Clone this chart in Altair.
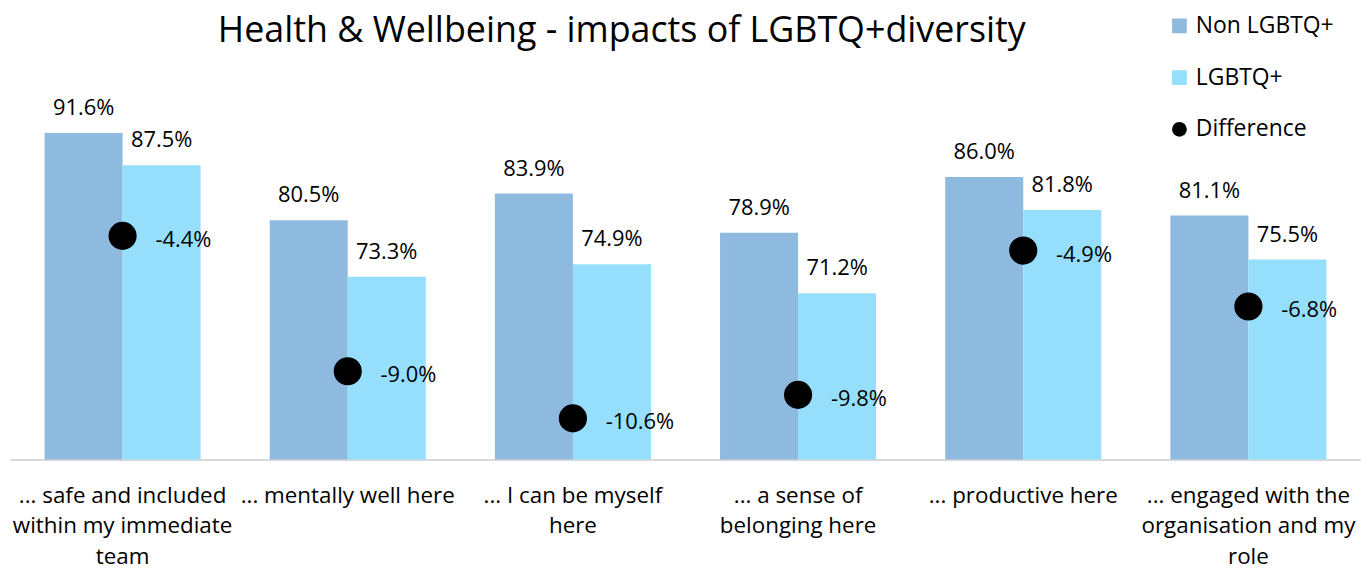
import altair as alt
import pandas as pd

categories = [
    "... safe and included\nwithin my immediate\nteam",
    "... mentally well here",
    "... I can be myself\nhere",
    "... a sense of\nbelonging here",
    "... productive here",
    "... engaged with the\norganisation and my\nrole",
]
non_lgbtq = [91.6, 80.5, 83.9, 78.9, 86.0, 81.1]
lgbtq = [87.5, 73.3, 74.9, 71.2, 81.8, 75.5]
difference = [-4.4, -9.0, -10.6, -9.8, -4.9, -6.8]

series_names = ["Non LGBTQ+", "LGBTQ+", "Difference"]
series_colors = ["#8FBADF", "#95DFFD", "#000000"]
series_shapes = ["square", "square", "circle"]

FONT = "Open Sans"

bars_df = pd.DataFrame({
    "category": categories * 2,
    "series": [series_names[0]] * len(categories) + [series_names[1]] * len(categories),
    "value": non_lgbtq + lgbtq,
})
diff_df = pd.DataFrame({
    "category": categories,
    "series": [series_names[2]] * len(categories),
    "diff": difference,
})

x_enc = alt.X(
    "category:N",
    sort=categories,
    title=None,
    scale=alt.Scale(paddingInner=0.307, paddingOuter=0.1535),
    axis=alt.Axis(
        labelAngle=0,
        labelExpr="split(datum.label, '\\n')",
        labelFontSize=22.5,
        labelFont=FONT,
        labelLineHeight=30.5,
        labelColor="#000000",
        labelBaseline="top",
        labelPadding=25,
        labelLimit=0,
        domainColor="#D9D9D9",
        domainWidth=2,
        ticks=False,
        grid=False,
    ),
)
xoff = alt.XOffset(
    "series:N",
    sort=series_names[:2],
    scale=alt.Scale(domain=series_names[:2], paddingInner=0, paddingOuter=0),
)
color_enc = alt.Color(
    "series:N",
    scale=alt.Scale(domain=series_names, range=series_colors),
    legend=alt.Legend(title=None),
)
shape_enc = alt.Shape(
    "series:N",
    scale=alt.Scale(domain=series_names, range=series_shapes),
    legend=alt.Legend(title=None),
)

y_bar = alt.Y("value:Q", scale=alt.Scale(domain=[50, 100], nice=False, zero=False, clamp=True), axis=None)
y_diff = alt.Y("diff:Q", scale=alt.Scale(domain=[-12, 1.33], nice=False, zero=False), axis=None)

bars = alt.Chart(bars_df).mark_bar().encode(
    x=x_enc, xOffset=xoff, y=y_bar, color=color_enc
)
bar_text = alt.Chart(bars_df).transform_calculate(
    label="replace(format(datum.value, '.1f'), '\u2212', '-') + '%'"
).mark_text(baseline="alphabetic", dy=-18, fontSize=22, font=FONT, color="#000000").encode(
    x=x_enc, xOffset=xoff, y=y_bar, text="label:N"
)
points = alt.Chart(diff_df).mark_point(filled=True, size=800, opacity=1).encode(
    x=x_enc, y=y_diff, color=color_enc, shape=shape_enc
)
diff_text = alt.Chart(diff_df).transform_calculate(
    label="replace(format(datum.diff, '.1f'), '\u2212', '-') + '%'"
).mark_text(align="left", baseline="middle", dx=33, dy=4, fontSize=22, font=FONT, color="#000000").encode(
    x=x_enc, y=y_diff, text="label:N"
)

chart = alt.layer(
    alt.layer(bars, bar_text),
    alt.layer(points, diff_text),
).resolve_scale(
    y="independent"
).properties(
    width=1358,
    height=394.5,
    autosize=alt.AutoSizeParams(type="none"),
    padding={"left": 2, "top": 58, "right": 0, "bottom": 108},
    title=alt.Title(
        "Health & Wellbeing - impacts of LGBTQ+diversity",
        fontSize=36,
        font=FONT,
        fontWeight="normal",
        color="#000000",
        anchor="middle",
        frame="group",
        dx=-64,
        dy=54,
        offset=18,
    ),
).configure_view(
    stroke=None
).configure_legend(
    orient="none",
    legendX=1164,
    legendY=-53,
    labelFontSize=23,
    labelFont=FONT,
    labelColor="#000000",
    symbolSize=220,
    symbolStrokeWidth=0,
    labelOffset=5,
    rowPadding=28,
    padding=0,
)

chart.save("out.html", embed_options={"renderer": "svg", "actions": False})
